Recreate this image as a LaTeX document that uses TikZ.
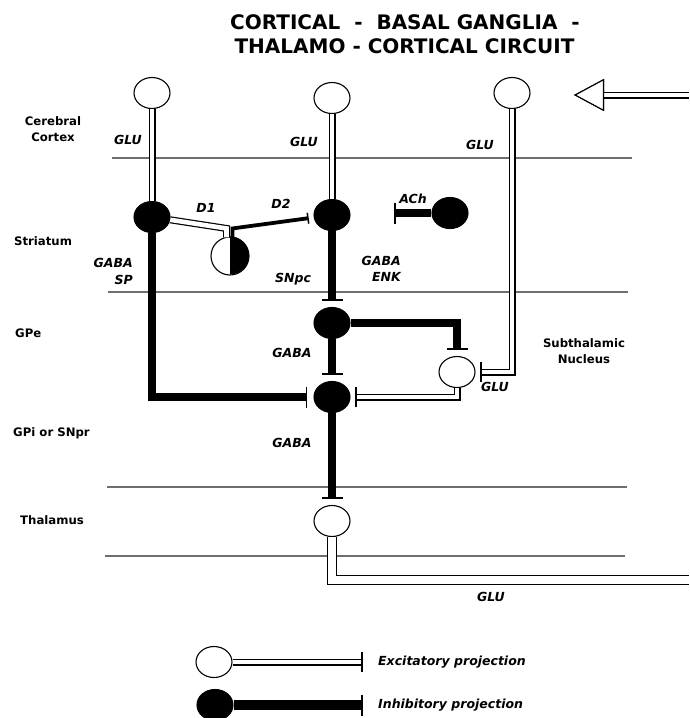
\documentclass[tikz,border=0pt]{standalone}
\usepackage{fontspec}
\setmainfont{DejaVu Sans}
\usepackage{tikz}
\usetikzlibrary{shapes.geometric,arrows.meta,positioning,calc}
\definecolor{LayerGray}{HTML}{6E6E6E}
\tikzset{
  % Base neuron
  NB/.style={ellipse,draw,line width=1.1pt,inner sep=0pt,
             minimum width=36pt,minimum height=31pt},
  nE/.style={NB,fill=white},
  nI/.style={NB,fill=black},
  % Excitatory projection (double line)
  exl/.style={draw=white,line width=4.6pt,
              preaction={draw=black,line width=7pt}},
  exw/.style={draw=white,line width=8pt,
              preaction={draw=black,line width=10.4pt}},
  exc/.style={exl,shorten >=4.5pt,
              -{Bar[width=20pt 0 0,line width=1.6pt 0 0,color=black]}},
  % Inhibitory projection
  inh/.style={line width=8pt,shorten >=6pt,
              -{Bar[width=21pt 0 0,line width=1.8pt 0 0]}},
  dop/.style={line width=3.8pt,shorten >=5pt,
              -{Bar[width=11pt 0 0,line width=1.5pt 0 0]}},
  % Layer lines
  lyr/.style={LayerGray,line width=1.6pt},
  % Label styles
  TT/.style={font=\fontsize{20}{24}\selectfont\bfseries,inner sep=0pt,anchor=base},
  RG/.style={font=\fontsize{11.7}{16}\selectfont\bfseries,inner sep=0pt,align=center},
  LB/.style={font=\fontsize{12.5}{16.5}\selectfont\bfseries\itshape,inner sep=0pt}
}
\begin{document}
\begin{tikzpicture}[x=1pt,y=-1pt]
  \useasboundingbox (0,0) rectangle (689,718);
  % title
  \node[TT] (title1) at (405,29.5) {CORTICAL~~-~~BASAL GANGLIA~~-};
  \node[TT] (title2) at (404.5,53.5) {THALAMO - CORTICAL CIRCUIT};
  % layers
  \draw[lyr] (112,158) -- (632,158);
  \draw[lyr] (108,292) -- (628,292);
  \draw[lyr] (107,487) -- (627,487);
  \draw[lyr] (105,556) -- (625,556);
  \node[RG] (rCtx) at (53,129) {Cerebral\\Cortex};
  \node[RG,anchor=west] (rStr) at (14,241) {Striatum};
  \node[RG,anchor=west] (rGPe) at (15,333) {GPe};
  \node[RG,anchor=west] (rGPi) at (13,433) {GPi or SNpr};
  \node[RG,anchor=west] (rTha) at (20,520) {Thalamus};
  \node[RG] (rSTN) at (584,351) {Subthalamic\\Nucleus};
  % neurons
  \node[nE] (ctxL) at (152,93) {};
  \node[nE] (ctxM) at (332,98) {};
  \node[nE] (ctxR) at (512,93) {};
  \node[nI] (strL) at (152,217) {};
  \node[nI] (strM) at (332,215) {};
  \node[nI] (ach) at (450,213) {};
  \node[circle,draw,line width=1.1pt,fill=white,inner sep=0pt,minimum size=38pt] (snc) at (230,256) {};
  \fill (snc.north) arc[start angle=90,end angle=-90,radius=19pt] -- cycle;
  \node[nI] (gpe) at (332,323) {};
  \node[nI] (gpi) at (332,397) {};
  \node[nE] (stn) at (457,372) {};
  \node[nE] (tha) at (332,521) {};
  % free ends
  \coordinate (achT) at (394,213);
  \coordinate (thaOut) at (689,580);
  \coordinate (inR) at (689,95);
  \coordinate (inT) at (574,95);
  % excitatory
  \draw[exl,-{Triangle[length=30pt 0 0,width=32pt 0 0,line width=1.1pt 0 0,color=black,fill=white]}] (inR) -- (inT);
  \draw[exl] (ctxL) -- (strL);
  \draw[exl] (ctxM) -- (strM);
  \draw[exc] (ctxR) |- (stn);
  \draw[exc] (stn) |- (gpi);
  \draw[exw] (tha) |- (thaOut);
  % dopamine
  \draw[exl] (strL) -- ($(snc.north)+(-3.5,-8)$) -- ($(snc.north)+(-3.5,1)$);
  \draw[dop] ($(snc.north)+(2.5,1)$) -- ($(snc.north)+(2.5,-8)$) -- (strM);
  % inhibitory
  \draw[inh] (strL) |- (gpi);
  \draw[inh] (strM) -- (gpe);
  \draw[inh] (gpe) -- (gpi);
  \draw[inh] (gpe) -| (stn);
  \draw[inh] (gpi) -- (tha);
  \draw[inh,shorten >=0pt] (ach) -- (achT);
  % transmitters
  \node[LB] (gluL) at (128,140) {GLU};
  \node[LB] (gluM) at (304,142) {GLU};
  \node[LB] (gluR) at (480,145) {GLU};
  \node[LB] (d1) at (206,208) {D1};
  \node[LB] (d2) at (281,204) {D2};
  \node[LB] (achL) at (413,199) {ACh};
  \node[LB,align=right,anchor=east] (gabaSP) at (133,271.5) {GABA\\SP};
  \node[LB] (snpcL) at (293,279) {SNpc};
  \node[LB,align=right,anchor=east] (gabaENK) at (401,269) {GABA\\ENK};
  \node[LB] (gabaE) at (292,353) {GABA};
  \node[LB] (gabaI) at (292,443) {GABA};
  \node[LB] (gluS) at (495,387) {GLU};
  \node[LB] (gluT) at (491,597) {GLU};
  % legend
  \node[nE] (legE) at (214,662) {};
  \node[nI] (legI) at (215,705) {};
  \coordinate (legET) at (363,662);
  \coordinate (legIT) at (363,705);
  \draw[exc,shorten >=0pt] (legE) -- (legET);
  \draw[inh,line width=9.5pt,shorten >=0pt] (legI) -- (legIT);
  \node[LB,anchor=west,right=15pt of legET] (legEt) {Excitatory projection};
  \node[LB,anchor=west,right=15pt of legIT] (legIt) {Inhibitory projection};
\end{tikzpicture}
\end{document}
